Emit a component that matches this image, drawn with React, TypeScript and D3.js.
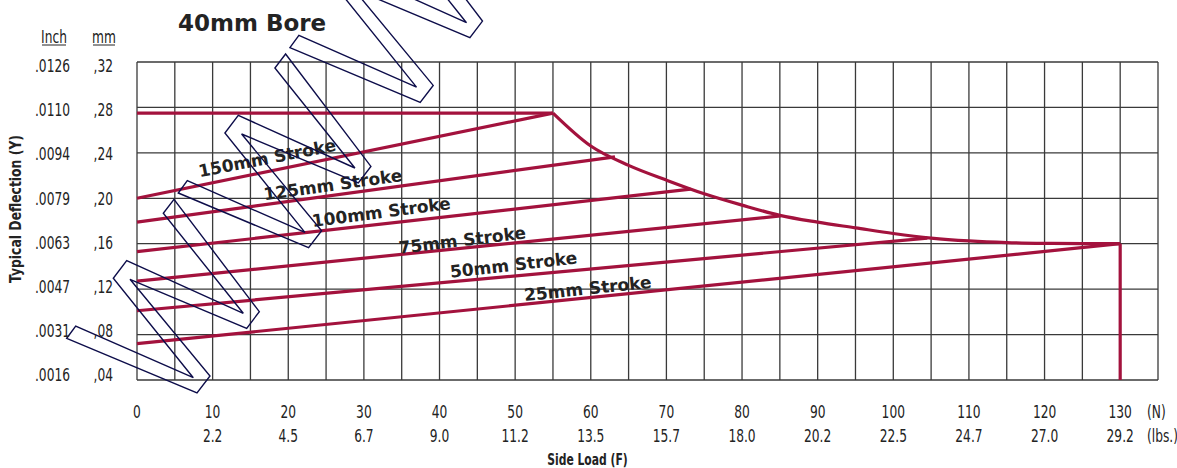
import React from 'react';
import * as d3 from 'd3';

// ---- data ----
const forceTicksN = [0, 10, 20, 30, 40, 50, 60, 70, 80, 90, 100, 110, 120, 130];
const forceTicksLbs = ['', '2.2', '4.5', '6.7', '9.0', '11.2', '13.5', '15.7', '18.0', '20.2', '22.5', '24.7', '27.0', '29.2'];
const deflectionMm = [0.04, 0.08, 0.12, 0.16, 0.2, 0.24, 0.28, 0.32];
const deflectionMmLabels = [',04', ',08', ',12', ',16', ',20', ',24', ',28', ',32'];
const deflectionInchLabels = ['.0016', '.0031', '.0047', '.0063', '.0079', '.0094', '.0110', '.0126'];

const strokeNames = ['150mm Stroke', '125mm Stroke', '100mm Stroke', '75mm Stroke', '50mm Stroke', '25mm Stroke'];
const strokeStartMm = [0.2, 0.179, 0.153, 0.127, 0.101, 0.072];
const strokeEndN = [55, 63.2, 73.2, 85.1, 104.5, 130];
const strokeEndMm = [0.275, 0.2365, 0.208, 0.1845, 0.165, 0.16];

const maxDeflectionMm = 0.275;
const maxLoadN = 130;
const limitCurveN = [55, 60, 65, 70, 75, 80, 85, 90, 95, 100, 105, 110, 115, 120, 125, 130];
const limitCurveMm = [0.275, 0.246, 0.229, 0.216, 0.204, 0.194, 0.185, 0.179, 0.174, 0.169, 0.165, 0.1625, 0.161, 0.1603, 0.16, 0.16];

// ---- layout (annotation placement, in data units) ----
const labelAtN = [17.2, 25.9, 32.3, 43.0, 49.8, 59.6];
const labelAtMm = [0.2355, 0.2121, 0.188, 0.1633, 0.1417, 0.1207];
const labelAngle = [-11, -8, -7.5, -7, -6.5, -6];

// decorative watermark outline (one "W", repeated)
const WATERMARK_W: [number, number][] = [
  [66.7, 338.3], [197, 393], [210, 376], [130, 279.3], [246.7, 328.3], [259.3, 311.7],
  [174, 199.3], [163.3, 213.3], [243.3, 313.3], [126.7, 260.7], [113.3, 278.3],
  [193.3, 377.7], [75.7, 326],
];
const WATERMARK_SHIFT: [number, number][] = [[0, 0], [111.6, -145.3], [223.2, -290.6]];

const RED = '#A3123D';
const GRID = '#3a3a3a';
const TEXT = '#232323';
const narrow = "'DejaVu Sans', sans-serif";
const heavy = "'DejaVu Sans', 'Open Sans', sans-serif";

type NProps = {
  x: number;
  y: number;
  anchor?: 'start' | 'middle' | 'end';
  size?: number;
  bold?: boolean;
  rotate?: number;
  squeeze?: number;
  dy?: string;
  children: React.ReactNode;
};

function NText({ x, y, anchor = 'middle', size = 17, bold = false, rotate = 0, squeeze = 0.72, dy, children }: NProps) {
  return (
    <g transform={`translate(${x},${y}) rotate(${rotate}) scale(${squeeze},1)`}>
      <text
        x={0}
        y={0}
        dy={dy}
        textAnchor={anchor}
        fontFamily={narrow}
        fontWeight={bold ? 'bold' : 'normal'}
        fontSize={size}
        fill={TEXT}
      >
        {children}
      </text>
    </g>
  );
}

export default function App() {
  const W = 1177;
  const H = 468;
  const x = d3.scaleLinear().domain([0, 135]).range([137, 1158]);
  const y = d3.scaleLinear().domain([0.04, 0.32]).range([380, 62]);
  const yLab = d3.scaleLinear().domain([0.04, 0.32]).range([375, 66]);

  const gridN = d3.range(0, 135.001, 5);
  const line = d3.line<[number, number]>().x((d) => x(d[0])).y((d) => y(d[1]));
  const curve = d3
    .line<[number, number]>()
    .x((d) => x(d[0]))
    .y((d) => y(d[1]))
    .curve(d3.curveMonotoneX);

  const limitPts: [number, number][] = limitCurveN.map((n, i) => [n, limitCurveMm[i]]);

  return (
    <svg
      width={W}
      height={H}
      style={{ position: 'absolute', left: 0, top: 0, background: '#fff' }}
    >
      {/* grid */}
      <g stroke={GRID} strokeWidth={1.3}>
        {gridN.map((n) => (
          <line key={'v' + n} x1={x(n)} x2={x(n)} y1={y(0.32)} y2={y(0.04)} />
        ))}
        {deflectionMm.map((m) => (
          <line key={'h' + m} x1={x(0)} x2={x(135)} y1={y(m)} y2={y(m)} />
        ))}
      </g>

      {/* red curves */}
      <g fill="none" stroke={RED} strokeWidth={3.2} strokeLinejoin="round">
        <path d={line([[0, maxDeflectionMm], [limitCurveN[0], maxDeflectionMm]]) || ''} />
        {strokeNames.map((s, i) => (
          <path
            key={s}
            d={line([[0, strokeStartMm[i]], [strokeEndN[i], strokeEndMm[i]]]) || ''}
          />
        ))}
        <path d={curve(limitPts) || ''} />
        <path d={line([[maxLoadN, limitCurveMm[limitCurveMm.length - 1]], [maxLoadN, 0.04]]) || ''} />
      </g>

      {/* stroke labels */}
      {strokeNames.map((s, i) => (
        <text
          key={'l' + s}
          transform={`translate(${x(labelAtN[i])},${y(labelAtMm[i])}) rotate(${labelAngle[i]})`}
          textAnchor="middle"
          dy="0.36em"
          fontFamily={heavy}
          fontWeight="bold"
          fontSize={17}
          fill={TEXT}
        >
          {s}
        </text>
      ))}

      {/* watermark */}
      <g fill="none" stroke="#0d0d4a" strokeWidth={1.4} strokeLinejoin="miter">
        {WATERMARK_SHIFT.map((t, k) => (
          <polygon
            key={'w' + k}
            points={WATERMARK_W.map((p) => `${p[0] + t[0]},${p[1] + t[1]}`).join(' ')}
          />
        ))}
      </g>

      {/* title */}
      <text x={178} y={30.5} fontFamily={heavy} fontWeight="bold" fontSize={23} fill={TEXT}>
        40mm Bore
      </text>

      {/* y axis labels */}
      <NText x={54} y={42.5}>Inch</NText>
      <line x1={42} x2={66} y1={45} y2={45} stroke={TEXT} strokeWidth={1} />
      <NText x={104} y={42.5}>mm</NText>
      <line x1={93} x2={115} y1={45} y2={45} stroke={TEXT} strokeWidth={1} />
      {deflectionMm.map((m, i) => (
        <g key={'yl' + m}>
          <NText x={70} y={yLab(m)} dy="0.36em" anchor="end">
            {deflectionInchLabels[i]}
          </NText>
          <NText x={113} y={yLab(m)} dy="0.36em" anchor="end">
            {deflectionMmLabels[i]}
          </NText>
        </g>
      ))}
      <NText x={21} y={209} rotate={-90} bold size={15.5} squeeze={0.8}>
        Typical Deflection (Y)
      </NText>

      {/* x axis labels */}
      {forceTicksN.map((n, i) => (
        <g key={'xl' + n}>
          <NText x={x(n)} y={418}>{n}</NText>
          {forceTicksLbs[i] && <NText x={x(n)} y={441.5}>{forceTicksLbs[i]}</NText>}
        </g>
      ))}
      <NText x={1147} y={418} anchor="start">(N)</NText>
      <NText x={1147} y={441.5} anchor="start">(lbs.)</NText>
      <NText x={587.5} y={465} bold size={15}>
        Side Load (F)
      </NText>
    </svg>
  );
}
